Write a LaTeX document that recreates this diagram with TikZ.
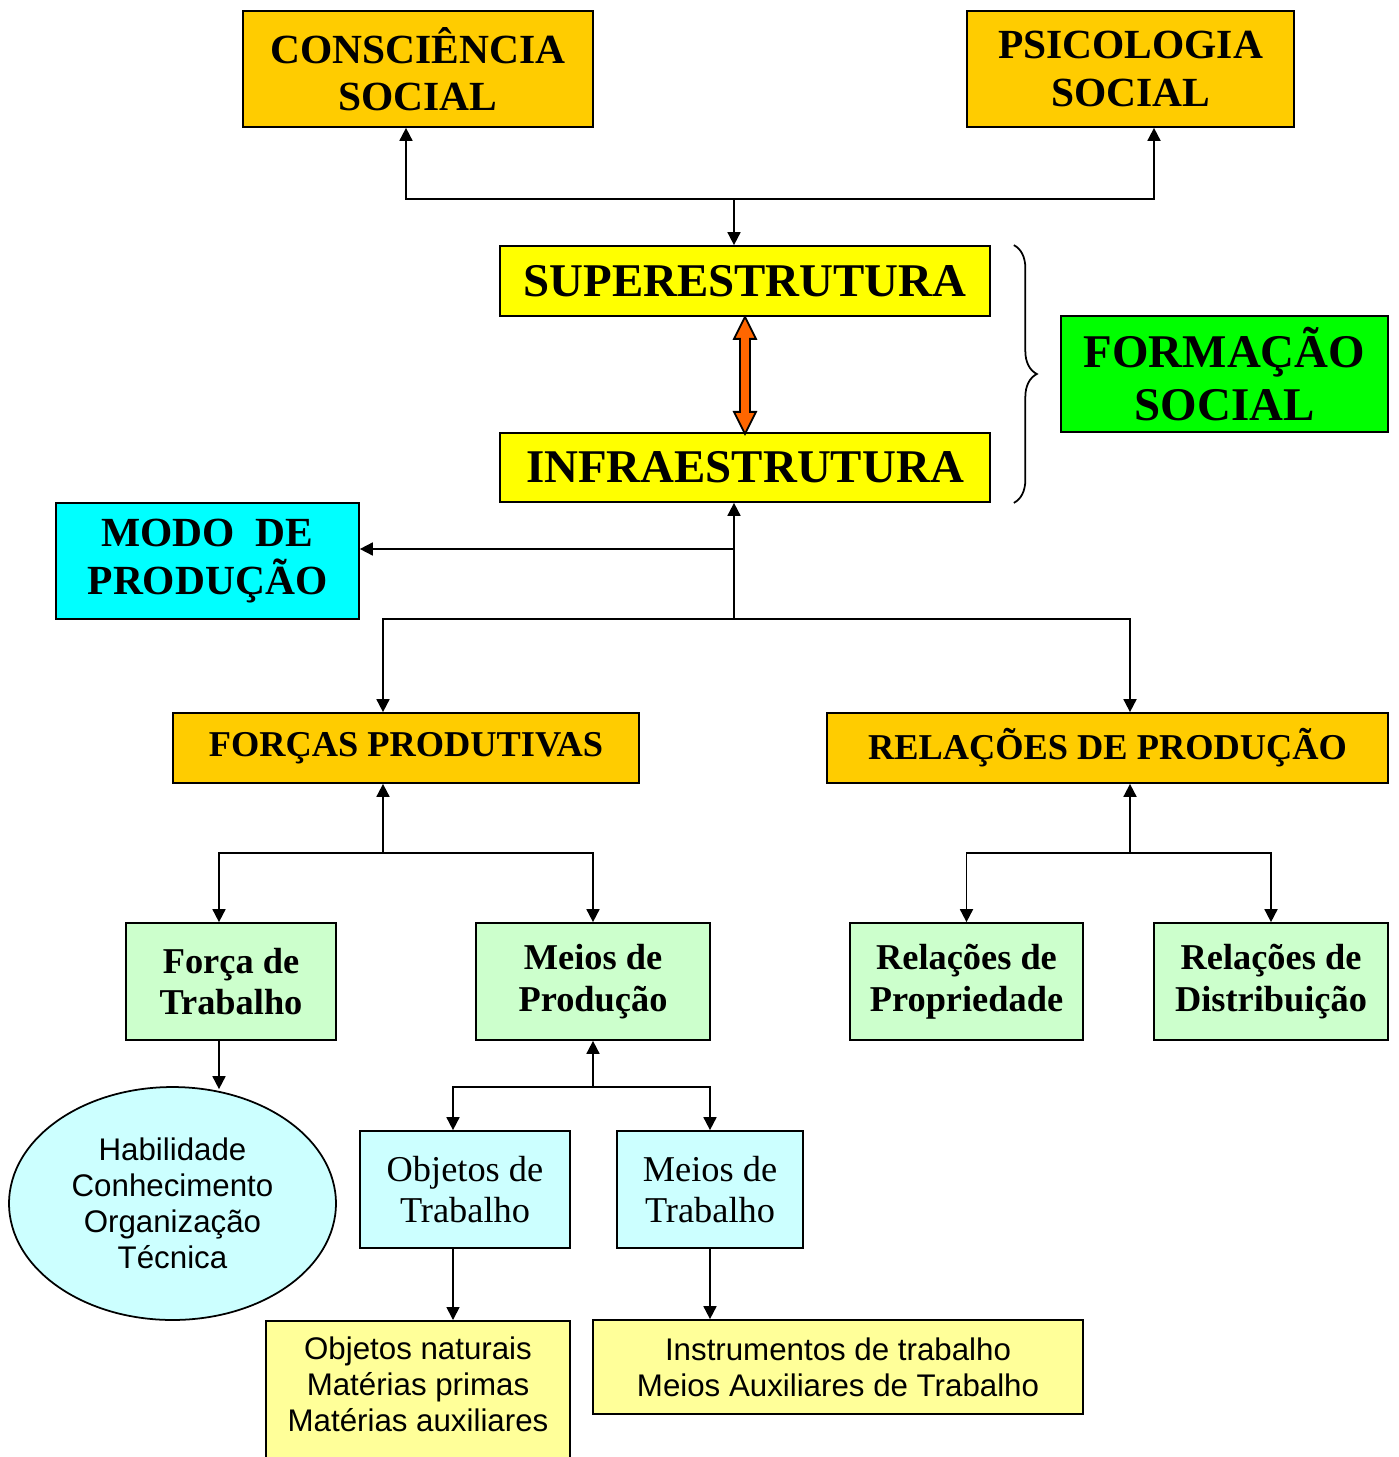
\documentclass[tikz,border=0pt]{standalone}
\usepackage{fontspec}
\setmainfont{Liberation Serif}
\setsansfont{Liberation Sans}
\usetikzlibrary{arrows.meta,shapes.geometric,calc,decorations.pathreplacing}
\definecolor{gold}{HTML}{FFCC00}
\definecolor{yel}{HTML}{FFFF00}
\definecolor{grn}{HTML}{00FF00}
\definecolor{cyn}{HTML}{00FFFF}
\definecolor{lgrn}{HTML}{CCFFCC}
\definecolor{lcyn}{HTML}{CCFFFF}
\definecolor{lyel}{HTML}{FFFF99}
\definecolor{orng}{HTML}{FF6600}
\begin{document}
\begin{tikzpicture}[x=0.02cm,y=-0.02cm]
    \tikzstyle{box}=[draw=black, line width=1pt, align=center, inner sep=0pt]
    \tikzstyle{huge}=[box, font=\fontsize{26.7}{30.6}\selectfont\bfseries]
    \tikzstyle{large}=[box, font=\fontsize{23.6}{26.8}\selectfont\bfseries]
    \tikzstyle{mid}=[box, font=\fontsize{20.7}{23.8}\selectfont\bfseries]
    \tikzstyle{plain}=[box, font=\fontsize{20.7}{23.8}\selectfont]
    \tikzstyle{list}=[box, font=\sffamily\fontsize{17.8}{20.4}\selectfont]
    \tikzstyle{arr}=[line width=1pt, -{Triangle[length=7.4pt,width=7.4pt]}]
    \useasboundingbox (0,0) rectangle (1399,1457);
    \clip (0,0) rectangle (1399,1457);
    % top
    \node[large, fill=gold, minimum width=7cm, minimum height=2.32cm] (cs) at (418,69) {CONSCIÊNCIA\\SOCIAL};
    \node[large, fill=gold, minimum width=6.54cm, minimum height=2.32cm] (ps) at (1130.5,69) {PSICOLOGIA\\SOCIAL};
    \node[huge, fill=yel, minimum width=9.8cm, minimum height=1.4cm] (sup) at (745,281) {SUPERESTRUTURA};
    \node[huge, fill=yel, minimum width=9.8cm, minimum height=1.38cm] (inf) at (745,467.5) {INFRAESTRUTURA};
    \node[huge, fill=grn, minimum width=6.54cm, minimum height=2.32cm] (fs) at (1224.5,374) {FORMAÇÃO\\SOCIAL};
    \node[large, fill=cyn, minimum width=6.06cm, minimum height=2.32cm] (mp) at (207.5,561) {MODO~ DE\\PRODUÇÃO};
    % middle
    \node[mid, fill=gold, minimum width=9.32cm, minimum height=1.4cm] (fp) at (406,748) {FORÇAS PRODUTIVAS};
    \node[mid, fill=gold, minimum width=11.22cm, minimum height=1.4cm] (rp) at (1107.5,748) {RELAÇÕES DE PRODUÇÃO};
    \node[mid, fill=lgrn, minimum width=4.2cm, minimum height=2.34cm] (ft) at (231,981.5) {Força de\\Trabalho};
    \node[mid, fill=lgrn, minimum width=4.68cm, minimum height=2.34cm] (mdp) at (593,981.5) {Meios de\\Produção};
    \node[mid, fill=lgrn, minimum width=4.66cm, minimum height=2.34cm] (rpr) at (966.5,981.5) {Relações de\\Propriedade};
    \node[mid, fill=lgrn, minimum width=4.68cm, minimum height=2.34cm] (rd) at (1271,981.5) {Relações de\\Distribuição};
    % bottom
    \node[list, ellipse, fill=lcyn, minimum width=6.54cm, minimum height=4.66cm] (hab) at (172.5,1203.5) {Habilidade\\Conhecimento\\Organização\\Técnica};
    \node[plain, fill=lcyn, minimum width=4.2cm, minimum height=2.34cm] (ot) at (465,1189.5) {Objetos de\\Trabalho};
    \node[plain, fill=lcyn, minimum width=3.72cm, minimum height=2.34cm] (mt) at (710,1189.5) {Meios de\\Trabalho};
    \node[list, fill=lyel, anchor=north, minimum width=6.08cm, inner ysep=9pt, text depth=3cm] (on) at (418,1320) {Objetos naturais\\Matérias primas\\Matérias auxiliares};
    \node[list, fill=lyel, minimum width=9.8cm, minimum height=1.88cm] (ins) at (838,1367) {Instrumentos de trabalho\\Meios Auxiliares de Trabalho};
    % brace and double arrow
    \draw[line width=1pt, decorate, decoration={brace, amplitude=0.46cm}] ($(sup.north east)+(23,0)$) -- ($(inf.south east)+(23,0)$);
    \filldraw[fill=orng, draw=black, line width=1pt, shift={(sup.south)}] (0,0) -- (11,22) -- (5,22) -- (5,95) -- (11,95) -- (0,117) -- (-11,95) -- (-5,95) -- (-5,22) -- (-11,22) -- cycle;
    % connectors
    \coordinate (j1) at (734,199);
    \draw[arr] (j1) -- (j1 |- sup.north);
    \draw[arr] (j1) -| ($(cs.south)+(-12,0)$);
    \draw[arr] (j1) -| ($(ps.south)+(23.5,0)$);
    \coordinate (j2) at (734,619);
    \coordinate (j3) at (734,549);
    \draw[arr] (j2) -- (j2 |- inf.south);
    \draw[arr] (j3) -- (j3 -| mp.east);
    \draw[arr] (j2) -| ($(fp.north)+(-23,0)$);
    \draw[arr] (j2) -| ($(rp.north)+(22.5,0)$);
    \coordinate (j4) at (383,853);
    \draw[arr] (j4) -- (j4 |- fp.south);
    \draw[arr] (j4) -| ($(ft.north)+(-12,0)$);
    \draw[arr] (j4) -| (mdp.north);
    \coordinate (j5) at (1130,853);
    \draw[arr] (j5) -- (j5 |- rp.south);
    \draw[arr] (j5) -| (rpr.north);
    \draw[arr] (j5) -| (rd.north);
    \draw[arr] ($(ft.south)+(-12,0)$) coordinate (k1) -- ($(k1 |- hab.north)+(0,3)$);
    \coordinate (j6) at (593,1087);
    \draw[arr] (j6) -- (j6 |- mdp.south);
    \draw[arr] (j6) -| ($(ot.north)+(-12,0)$);
    \draw[arr] (j6) -| (mt.north);
    \draw[arr] ($(ot.south)+(-12,0)$) coordinate (k2) -- (k2 |- on.north);
    \draw[arr] (mt.south) -- (mt.south |- ins.north);
\end{tikzpicture}
\end{document}
